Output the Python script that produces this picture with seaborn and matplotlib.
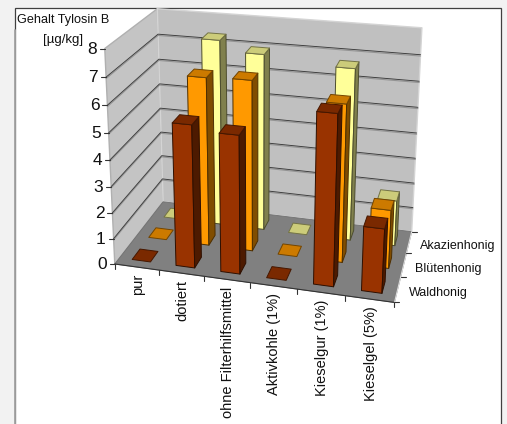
import matplotlib

matplotlib.use("Agg")
import matplotlib.pyplot as plt
import numpy as np
import pandas as pd
import seaborn as sns
from matplotlib.patches import Polygon, Rectangle

CATEGORIES = ["pur", "dotiert", "ohne Filterhilfsmittel", "Aktivkohle (1%)", "Kieselgur (1%)", "Kieselgel (5%)"]
SERIES = ["Waldhonig", "Blütenhonig", "Akazienhonig"]
WALDHONIG = [0.0, 5.4, 5.2, 0.0, 6.3, 2.4]
BLUETENHONIG = [0.0, 6.5, 6.55, 0.0, 6.0, 2.25]
AKAZIENHONIG = [0.0, 7.35, 6.95, 0.0, 6.7, 1.8]
Z_TICKS = [0, 1, 2, 3, 4, 5, 6, 7, 8]
COLORS = ["#993300", "#ff9900", "#ffff99"]

BAR_W = 0.42
BAR_D = 0.46

# picture position of the box corners: (category, series, value) -> (px, py)
ANCHORS = [
    ((0, 0, 0), (115, 264)),
    ((6, 0, 0), (394, 303)),
    ((6, 3, 0), (412, 231)),
    ((0, 3, 0), (163, 202)),
    ((0, 0, 8), (105, 48)),
    ((0, 3, 8), (157, 9)),
    ((6, 3, 8), (422, 28)),
]


def fit_camera(anchors: list) -> np.ndarray:
    rows, rhs = [], []
    for (x, y, z), (u, v) in anchors:
        rows.append([x, y, z, 1, 0, 0, 0, 0, -u * x, -u * y, -u * z])
        rows.append([0, 0, 0, 0, x, y, z, 1, -v * x, -v * y, -v * z])
        rhs += [u, v]
    p = np.linalg.lstsq(np.array(rows, float), np.array(rhs, float), rcond=None)[0]
    return np.append(p, 1.0).reshape(3, 4)


CAMERA = fit_camera(ANCHORS)


def project(x: float, y: float, z: float) -> tuple:
    u, v, w = CAMERA @ np.array([x, y, z, 1.0])
    return u / w, v / w


def face(ax, points, color, edge=None, lw=0.7, zorder=2) -> None:
    ax.add_patch(
        Polygon([project(*p) for p in points], closed=True, facecolor=color,
                edgecolor=edge or color, linewidth=lw, zorder=zorder, joinstyle="round")
    )


def shade(color, factor: float) -> tuple:
    return tuple(c * factor for c in matplotlib.colors.to_rgb(color))


def draw_walls(ax) -> None:
    face(ax, [(0, 0, 0), (0, 3, 0), (0, 3, 8), (0, 0, 8)], "#c4c4c4", "#b0b0b0", 1.0)
    face(ax, [(0, 3, 0), (6, 3, 0), (6, 3, 8), (0, 3, 8)], "#c0c0c0", "#d4d4d4", 1.0)
    face(ax, [(0, 0, 0), (6, 0, 0), (6, 3, 0), (0, 3, 0)], "#808080", "#707070", 0.6)
    for k in Z_TICKS[1:-1]:
        pts = [project(0, 0, k), project(0, 3, k), project(6, 3, k)]
        low = [project(0, 0, k - 0.05), project(0, 3, k - 0.05), project(6, 3, k - 0.05)]
        ax.plot(*zip(*low), color="#949494", lw=0.8, zorder=2)
        ax.plot(*zip(*pts), color="#3a3a3a", lw=0.65, zorder=2)


def draw_axes_marks(ax) -> None:
    for k in Z_TICKS:
        u, v = project(0, 0, k)
        ax.plot([u - 5, u], [v, v], color="#333333", lw=0.8, zorder=2)
        ax.text(u - 8, v + 0.5, str(k), ha="right", va="center", fontsize=12.5, color="#111111")
    for i in range(7):
        u, v = project(i, 0, 0)
        ax.plot([u, u], [v, v + 5], color="#333333", lw=0.8, zorder=2)
    ax.plot(*zip(project(0, 0, 0), project(6, 0, 0)), color="#333333", lw=0.8, zorder=2)
    ax.plot(*zip(project(6, 0, 0), project(6, 3, 0)), color="#dddddd", lw=0.8, zorder=2)
    for j in range(4):
        u, v = project(6, j, 0)
        ax.plot([u, u + 5], [v, v], color="#333333", lw=0.8, zorder=2)
    for i, label in enumerate(CATEGORIES):
        u, v = project(i + 0.5, 0, 0)
        ax.text(u + 1, v + 7, label, rotation=90, ha="center", va="top", fontsize=10.5, color="#111111")
    for j, label in enumerate(SERIES):
        u, v = project(6, j + 0.5, 0)
        ax.text(u + 11, v + 4, label, ha="left", va="center", fontsize=9, color="#111111")


def draw_bars(ax, df: pd.DataFrame) -> None:
    # back row first, left to right: the camera sits in front and to the right
    z = 3
    for j in reversed(range(len(SERIES))):
        rows = df[df["series"] == SERIES[j]]
        for i, value in enumerate(rows["value"]):
            x0, x1 = i + 0.5 - BAR_W / 2, i + 0.5 + BAR_W / 2
            y0, y1 = j + 0.5 - BAR_D / 2, j + 0.5 + BAR_D / 2
            base = COLORS[j]
            edge = shade(base, 0.3)
            top_color = shade(base, 0.8)
            if value > 0:
                face(ax, [(x0, y0, 0), (x1, y0, 0), (x1, y0, value), (x0, y0, value)], base, edge, zorder=z)
                face(ax, [(x1, y0, 0), (x1, y1, 0), (x1, y1, value), (x1, y0, value)],
                     shade(base, 0.5), edge, zorder=z)
            face(ax, [(x0, y0, value), (x1, y0, value), (x1, y1, value), (x0, y1, value)],
                 top_color, shade(base, 0.45), zorder=z)
            z += 1


def main() -> None:
    sns.set_theme(style="white")
    plt.rcParams["font.family"] = ["Liberation Sans", "DejaVu Sans"]

    df = pd.DataFrame({"Waldhonig": WALDHONIG, "Blütenhonig": BLUETENHONIG, "Akazienhonig": AKAZIENHONIG},
                      index=CATEGORIES).rename_axis("category").reset_index()
    df = df.melt(id_vars="category", var_name="series", value_name="value")

    fig = plt.figure(figsize=(5.07, 4.24), dpi=100, facecolor="#f2f2f2")
    ax = fig.add_axes([0, 0, 1, 1])
    ax.set_xlim(0, 507)
    ax.set_ylim(424, 0)
    ax.axis("off")

    ax.add_patch(Rectangle((15, 8), 486, 430, facecolor="white", edgecolor="#404040", linewidth=0.9, zorder=0))
    ax.plot([15, 15], [30, 424], color="#a4a4a4", lw=1.3, zorder=1)

    draw_walls(ax)
    draw_axes_marks(ax)
    draw_bars(ax, df)

    ax.text(17, 20, "Gehalt Tylosin B", ha="left", va="center", fontsize=9.1, color="#111111")
    ax.text(63, 40, "[µg/kg]", ha="center", va="center", fontsize=9.5, color="#111111")

    fig.savefig("out.png", dpi=100, facecolor=fig.get_facecolor())
    plt.close(fig)


if __name__ == "__main__":
    main()
